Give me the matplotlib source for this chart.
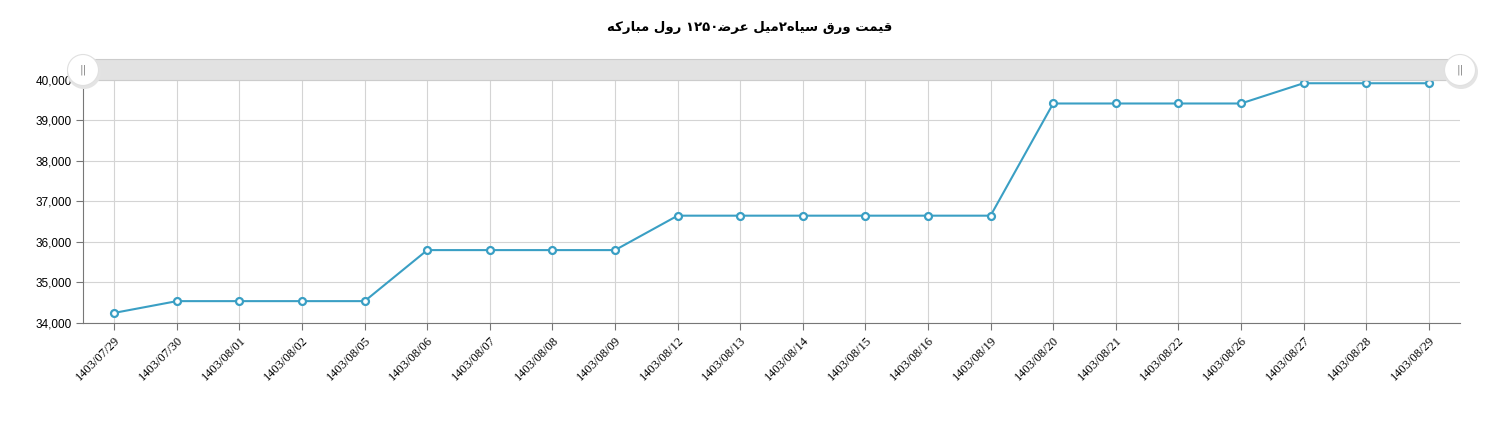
import matplotlib
matplotlib.use('Agg')
import matplotlib.pyplot as plt
from matplotlib.patches import Rectangle, Circle

# data
dates = ['1403/07/29', '1403/07/30', '1403/08/01', '1403/08/02', '1403/08/05',
         '1403/08/06', '1403/08/07', '1403/08/08', '1403/08/09', '1403/08/12',
         '1403/08/13', '1403/08/14', '1403/08/15', '1403/08/16', '1403/08/19',
         '1403/08/20', '1403/08/21', '1403/08/22', '1403/08/26', '1403/08/27',
         '1403/08/28', '1403/08/29']
prices = [34250, 34540, 34540, 34540, 34540,
          35800, 35800, 35800, 35800, 36650,
          36650, 36650, 36650, 36650, 36650,
          39420, 39420, 39420, 39420, 39920,
          39920, 39920]
yticks = [34000, 35000, 36000, 37000, 38000, 39000, 40000]
title = 'قیمت ورق سیاه۲میل عرض۱۲۵۰ رول مبارکه'

# minimal arabic shaping (matplotlib has no shaping)
forms = {
    'ا': ('\uFE8D', '\uFE8E', None, None),
    'ب': ('\uFE8F', '\uFE90', '\uFE91', '\uFE92'),
    'ت': ('\uFE95', '\uFE96', '\uFE97', '\uFE98'),
    'ر': ('\uFEAD', '\uFEAE', None, None),
    'س': ('\uFEB1', '\uFEB2', '\uFEB3', '\uFEB4'),
    'ض': ('\uFEBF', '\uFEC0', '\uFEC1', '\uFEC2'),
    'ع': ('\uFEC9', '\uFECA', '\uFECB', '\uFECC'),
    'ق': ('\uFED5', '\uFED6', '\uFED7', '\uFED8'),
    'ل': ('\uFEDD', '\uFEDE', '\uFEDF', '\uFEE0'),
    'م': ('\uFEE1', '\uFEE2', '\uFEE3', '\uFEE4'),
    'ه': ('\uFEE9', '\uFEEA', '\uFEEB', '\uFEEC'),
    'و': ('\uFEED', '\uFEEE', None, None),
    'ی': ('\uFBFC', '\uFBFD', '\uFBFE', '\uFBFF'),
    'ک': ('\uFB8E', '\uFB8F', '\uFB90', '\uFB91'),
}

def shape(s):
    out = []
    for i, c in enumerate(s):
        if c not in forms:
            out.append(c)
            continue
        prev = s[i-1] if i > 0 else ''
        nxt = s[i+1] if i < len(s)-1 else ''
        jp = prev in forms and forms[prev][2] is not None
        jn = nxt in forms and forms[c][2] is not None
        iso, fin, ini, med = forms[c]
        if jp and jn:
            out.append(med)
        elif jp:
            out.append(fin)
        elif jn:
            out.append(ini)
        else:
            out.append(iso)
    # visual order: reverse, keep digit runs left-to-right
    rev = ''.join(out)[::-1]
    res, run = '', ''
    for c in rev:
        if '\u06F0' <= c <= '\u06F9':
            run += c
        else:
            res += run[::-1] + c
            run = ''
    return res + run[::-1]

fig = plt.figure(figsize=(14.98, 4.33), dpi=100)
ax = fig.add_axes([83/1498, 110/433, 1377/1498, 243/433])

x = list(range(len(dates)))
ax.plot(x, prices, color='#3a9fc4', lw=1.5, marker='o', ms=5,
        mfc='white', mec='#3a9fc4', mew=1.6, zorder=3, clip_on=False)

ax.set_xlim(-0.5, len(dates) - 0.5)
ax.set_ylim(34000, 40000)
ax.set_yticks(yticks)
ax.set_yticklabels([f'{v:,}' for v in yticks], fontsize=8.5, family='Liberation Sans')
ax.set_xticks(x)
ax.set_xticklabels(dates, rotation=45, ha='right', rotation_mode='anchor',
                   fontsize=9, family='Liberation Serif')
ax.grid(True, color='#d4d4d4', lw=0.8)
ax.set_axisbelow(True)
for s in ['top', 'right']:
    ax.spines[s].set_visible(False)
ax.spines['left'].set_color('#777777')
ax.spines['bottom'].set_color('#777777')
ax.tick_params(axis='both', length=5, color='#777777', pad=3)

# navigator bar on top
fig.patches.append(Rectangle((83/1498, 353/433), 1377/1498, 21/433,
                             transform=fig.transFigure, fc='#e2e2e2',
                             ec='#cccccc', lw=0.8))
for hx in [83, 1460]:
    fig.patches.append(Circle((hx + 1, 433-72), 17, transform=None,
                              fc='#e4e4e4', ec='none', zorder=5))
    fig.patches.append(Circle((hx, 433-70), 15.5, transform=None,
                              fc='white', ec='#e0e0e0', lw=0.8, zorder=6))
    fig.text(hx/1498, (433-70)/433, '||', ha='center', va='center',
             fontsize=8, color='#888888', zorder=7)

fig.text(750/1498, (433-27)/433, shape(title), ha='center', va='center',
         fontsize=9.5, fontweight='bold', family='DejaVu Sans')

fig.savefig('out.png', dpi=100)
